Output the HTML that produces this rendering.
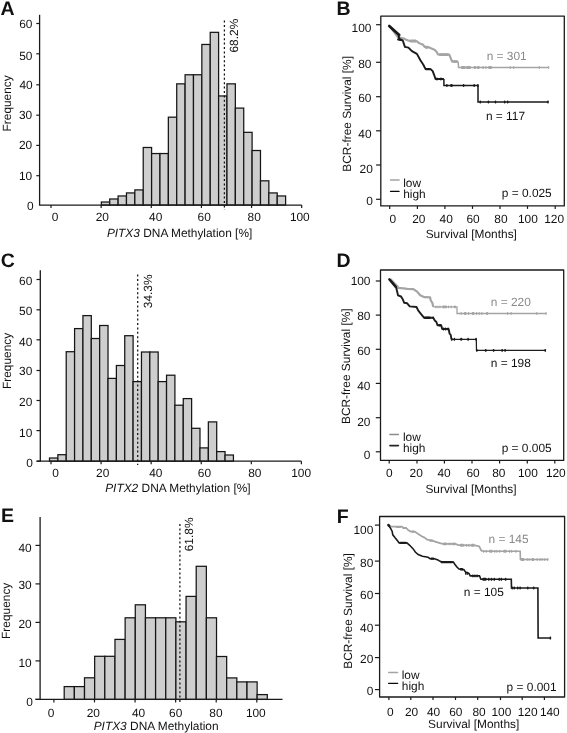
<!DOCTYPE html>
<html><head><meta charset="utf-8"><style>
html,body{margin:0;padding:0;background:#fff;width:567px;height:733px;overflow:hidden}
svg{display:block;filter:grayscale(1)}
text{font-family:"Liberation Sans",sans-serif;text-rendering:geometricPrecision}
</style></head><body>
<svg width="567" height="733" viewBox="0 0 567 733">
<rect width="567" height="733" fill="#fff"/>
<rect x="101.35" y="202.02" width="8.38" height="3.03" fill="#cecece" stroke="#151515" stroke-width="1.25"/>
<rect x="109.72" y="198.99" width="8.38" height="6.06" fill="#cecece" stroke="#151515" stroke-width="1.25"/>
<rect x="118.10" y="195.96" width="8.38" height="9.09" fill="#cecece" stroke="#151515" stroke-width="1.25"/>
<rect x="126.47" y="192.93" width="8.38" height="12.12" fill="#cecece" stroke="#151515" stroke-width="1.25"/>
<rect x="134.85" y="189.90" width="8.38" height="15.15" fill="#cecece" stroke="#151515" stroke-width="1.25"/>
<rect x="143.22" y="147.48" width="8.38" height="57.57" fill="#cecece" stroke="#151515" stroke-width="1.25"/>
<rect x="151.60" y="153.54" width="8.38" height="51.51" fill="#cecece" stroke="#151515" stroke-width="1.25"/>
<rect x="159.97" y="153.54" width="8.38" height="51.51" fill="#cecece" stroke="#151515" stroke-width="1.25"/>
<rect x="168.35" y="117.18" width="8.38" height="87.87" fill="#cecece" stroke="#151515" stroke-width="1.25"/>
<rect x="176.72" y="83.85" width="8.38" height="121.20" fill="#cecece" stroke="#151515" stroke-width="1.25"/>
<rect x="185.10" y="74.76" width="8.38" height="130.29" fill="#cecece" stroke="#151515" stroke-width="1.25"/>
<rect x="193.47" y="74.76" width="8.38" height="130.29" fill="#cecece" stroke="#151515" stroke-width="1.25"/>
<rect x="201.85" y="44.46" width="8.38" height="160.59" fill="#cecece" stroke="#151515" stroke-width="1.25"/>
<rect x="210.22" y="32.34" width="8.38" height="172.71" fill="#cecece" stroke="#151515" stroke-width="1.25"/>
<rect x="218.60" y="95.97" width="8.38" height="109.08" fill="#cecece" stroke="#151515" stroke-width="1.25"/>
<rect x="226.97" y="83.85" width="8.38" height="121.20" fill="#cecece" stroke="#151515" stroke-width="1.25"/>
<rect x="235.35" y="108.09" width="8.38" height="96.96" fill="#cecece" stroke="#151515" stroke-width="1.25"/>
<rect x="243.72" y="132.33" width="8.38" height="72.72" fill="#cecece" stroke="#151515" stroke-width="1.25"/>
<rect x="252.10" y="150.51" width="8.38" height="54.54" fill="#cecece" stroke="#151515" stroke-width="1.25"/>
<rect x="260.48" y="180.81" width="8.38" height="24.24" fill="#cecece" stroke="#151515" stroke-width="1.25"/>
<rect x="268.85" y="192.93" width="8.38" height="12.12" fill="#cecece" stroke="#151515" stroke-width="1.25"/>
<rect x="277.23" y="195.96" width="8.38" height="9.09" fill="#cecece" stroke="#151515" stroke-width="1.25"/>
<line x1="39.60" y1="14.80" x2="39.60" y2="205.65" stroke="#1a1a1a" stroke-width="1.3" />
<line x1="39.60" y1="205.05" x2="301.70" y2="205.05" stroke="#1a1a1a" stroke-width="1.3" />
<line x1="36.30" y1="23.50" x2="39.60" y2="23.50" stroke="#1a1a1a" stroke-width="1.2" />
<line x1="36.30" y1="53.80" x2="39.60" y2="53.80" stroke="#1a1a1a" stroke-width="1.2" />
<line x1="36.30" y1="84.80" x2="39.60" y2="84.80" stroke="#1a1a1a" stroke-width="1.2" />
<line x1="36.30" y1="115.20" x2="39.60" y2="115.20" stroke="#1a1a1a" stroke-width="1.2" />
<line x1="36.30" y1="145.40" x2="39.60" y2="145.40" stroke="#1a1a1a" stroke-width="1.2" />
<line x1="36.30" y1="175.70" x2="39.60" y2="175.70" stroke="#1a1a1a" stroke-width="1.2" />
<line x1="51.00" y1="205.05" x2="51.00" y2="208.05" stroke="#1a1a1a" stroke-width="1.2" />
<line x1="101.14" y1="205.05" x2="101.14" y2="208.05" stroke="#1a1a1a" stroke-width="1.2" />
<line x1="151.28" y1="205.05" x2="151.28" y2="208.05" stroke="#1a1a1a" stroke-width="1.2" />
<line x1="201.42" y1="205.05" x2="201.42" y2="208.05" stroke="#1a1a1a" stroke-width="1.2" />
<line x1="251.56" y1="205.05" x2="251.56" y2="208.05" stroke="#1a1a1a" stroke-width="1.2" />
<line x1="301.70" y1="205.05" x2="301.70" y2="208.05" stroke="#1a1a1a" stroke-width="1.2" />
<line x1="224.40" y1="20.60" x2="224.40" y2="210.00" stroke="#111" stroke-width="1.25" stroke-dasharray="2 2.4"/>
<rect x="49.50" y="458.00" width="8.36" height="3.20" fill="#cecece" stroke="#151515" stroke-width="1.25"/>
<rect x="57.86" y="454.70" width="8.36" height="6.50" fill="#cecece" stroke="#151515" stroke-width="1.25"/>
<rect x="66.22" y="351.70" width="8.36" height="109.50" fill="#cecece" stroke="#151515" stroke-width="1.25"/>
<rect x="74.58" y="328.60" width="8.36" height="132.60" fill="#cecece" stroke="#151515" stroke-width="1.25"/>
<rect x="82.94" y="315.60" width="8.36" height="145.60" fill="#cecece" stroke="#151515" stroke-width="1.25"/>
<rect x="91.30" y="338.50" width="8.36" height="122.70" fill="#cecece" stroke="#151515" stroke-width="1.25"/>
<rect x="99.66" y="325.50" width="8.36" height="135.70" fill="#cecece" stroke="#151515" stroke-width="1.25"/>
<rect x="108.02" y="378.40" width="8.36" height="82.80" fill="#cecece" stroke="#151515" stroke-width="1.25"/>
<rect x="116.38" y="365.50" width="8.36" height="95.70" fill="#cecece" stroke="#151515" stroke-width="1.25"/>
<rect x="124.74" y="335.70" width="8.36" height="125.50" fill="#cecece" stroke="#151515" stroke-width="1.25"/>
<rect x="133.10" y="381.60" width="8.36" height="79.60" fill="#cecece" stroke="#151515" stroke-width="1.25"/>
<rect x="141.46" y="352.00" width="8.36" height="109.20" fill="#cecece" stroke="#151515" stroke-width="1.25"/>
<rect x="149.82" y="352.00" width="8.36" height="109.20" fill="#cecece" stroke="#151515" stroke-width="1.25"/>
<rect x="158.18" y="381.60" width="8.36" height="79.60" fill="#cecece" stroke="#151515" stroke-width="1.25"/>
<rect x="166.54" y="375.20" width="8.36" height="86.00" fill="#cecece" stroke="#151515" stroke-width="1.25"/>
<rect x="174.90" y="405.20" width="8.36" height="56.00" fill="#cecece" stroke="#151515" stroke-width="1.25"/>
<rect x="183.26" y="398.60" width="8.36" height="62.60" fill="#cecece" stroke="#151515" stroke-width="1.25"/>
<rect x="191.62" y="428.30" width="8.36" height="32.90" fill="#cecece" stroke="#151515" stroke-width="1.25"/>
<rect x="199.98" y="447.90" width="8.36" height="13.30" fill="#cecece" stroke="#151515" stroke-width="1.25"/>
<rect x="208.34" y="421.90" width="8.36" height="39.30" fill="#cecece" stroke="#151515" stroke-width="1.25"/>
<rect x="216.70" y="451.60" width="8.36" height="9.60" fill="#cecece" stroke="#151515" stroke-width="1.25"/>
<rect x="225.06" y="455.00" width="8.36" height="6.20" fill="#cecece" stroke="#151515" stroke-width="1.25"/>
<line x1="40.30" y1="270.30" x2="40.30" y2="461.80" stroke="#1a1a1a" stroke-width="1.3" />
<line x1="36.60" y1="461.20" x2="301.40" y2="461.20" stroke="#1a1a1a" stroke-width="1.3" />
<line x1="36.50" y1="279.50" x2="40.30" y2="279.50" stroke="#1a1a1a" stroke-width="1.2" />
<line x1="36.50" y1="309.80" x2="40.30" y2="309.80" stroke="#1a1a1a" stroke-width="1.2" />
<line x1="36.50" y1="339.80" x2="40.30" y2="339.80" stroke="#1a1a1a" stroke-width="1.2" />
<line x1="36.50" y1="370.50" x2="40.30" y2="370.50" stroke="#1a1a1a" stroke-width="1.2" />
<line x1="36.50" y1="400.50" x2="40.30" y2="400.50" stroke="#1a1a1a" stroke-width="1.2" />
<line x1="36.50" y1="430.60" x2="40.30" y2="430.60" stroke="#1a1a1a" stroke-width="1.2" />
<line x1="36.50" y1="461.20" x2="40.30" y2="461.20" stroke="#1a1a1a" stroke-width="1.2" />
<line x1="51.00" y1="461.20" x2="51.00" y2="464.20" stroke="#1a1a1a" stroke-width="1.2" />
<line x1="101.08" y1="461.20" x2="101.08" y2="464.20" stroke="#1a1a1a" stroke-width="1.2" />
<line x1="151.16" y1="461.20" x2="151.16" y2="464.20" stroke="#1a1a1a" stroke-width="1.2" />
<line x1="201.24" y1="461.20" x2="201.24" y2="464.20" stroke="#1a1a1a" stroke-width="1.2" />
<line x1="251.32" y1="461.20" x2="251.32" y2="464.20" stroke="#1a1a1a" stroke-width="1.2" />
<line x1="301.40" y1="461.20" x2="301.40" y2="464.20" stroke="#1a1a1a" stroke-width="1.2" />
<line x1="137.70" y1="274.60" x2="137.70" y2="465.00" stroke="#111" stroke-width="1.25" stroke-dasharray="2 2.4"/>
<rect x="64.20" y="686.60" width="10.15" height="12.80" fill="#cecece" stroke="#151515" stroke-width="1.25"/>
<rect x="74.36" y="686.60" width="10.15" height="12.80" fill="#cecece" stroke="#151515" stroke-width="1.25"/>
<rect x="84.51" y="677.80" width="10.15" height="21.60" fill="#cecece" stroke="#151515" stroke-width="1.25"/>
<rect x="94.66" y="656.30" width="10.15" height="43.10" fill="#cecece" stroke="#151515" stroke-width="1.25"/>
<rect x="104.82" y="656.30" width="10.15" height="43.10" fill="#cecece" stroke="#151515" stroke-width="1.25"/>
<rect x="114.97" y="639.40" width="10.15" height="60.00" fill="#cecece" stroke="#151515" stroke-width="1.25"/>
<rect x="125.13" y="617.80" width="10.15" height="81.60" fill="#cecece" stroke="#151515" stroke-width="1.25"/>
<rect x="135.28" y="604.80" width="10.15" height="94.60" fill="#cecece" stroke="#151515" stroke-width="1.25"/>
<rect x="145.44" y="617.80" width="10.15" height="81.60" fill="#cecece" stroke="#151515" stroke-width="1.25"/>
<rect x="155.59" y="617.80" width="10.15" height="81.60" fill="#cecece" stroke="#151515" stroke-width="1.25"/>
<rect x="165.75" y="617.80" width="10.15" height="81.60" fill="#cecece" stroke="#151515" stroke-width="1.25"/>
<rect x="175.91" y="621.80" width="10.15" height="77.60" fill="#cecece" stroke="#151515" stroke-width="1.25"/>
<rect x="186.06" y="596.40" width="10.15" height="103.00" fill="#cecece" stroke="#151515" stroke-width="1.25"/>
<rect x="196.21" y="566.30" width="10.15" height="133.10" fill="#cecece" stroke="#151515" stroke-width="1.25"/>
<rect x="206.37" y="617.80" width="10.15" height="81.60" fill="#cecece" stroke="#151515" stroke-width="1.25"/>
<rect x="216.52" y="656.50" width="10.15" height="42.90" fill="#cecece" stroke="#151515" stroke-width="1.25"/>
<rect x="226.68" y="677.90" width="10.15" height="21.50" fill="#cecece" stroke="#151515" stroke-width="1.25"/>
<rect x="236.83" y="681.90" width="10.15" height="17.50" fill="#cecece" stroke="#151515" stroke-width="1.25"/>
<rect x="246.99" y="681.90" width="10.15" height="17.50" fill="#cecece" stroke="#151515" stroke-width="1.25"/>
<rect x="257.14" y="694.60" width="10.15" height="4.80" fill="#cecece" stroke="#151515" stroke-width="1.25"/>
<line x1="40.10" y1="516.90" x2="40.10" y2="700.00" stroke="#1a1a1a" stroke-width="1.3" />
<line x1="35.50" y1="699.40" x2="282.50" y2="699.40" stroke="#1a1a1a" stroke-width="1.3" />
<line x1="35.50" y1="699.40" x2="40.10" y2="699.40" stroke="#1a1a1a" stroke-width="1.2" />
<line x1="35.50" y1="660.90" x2="40.10" y2="660.90" stroke="#1a1a1a" stroke-width="1.2" />
<line x1="35.50" y1="622.40" x2="40.10" y2="622.40" stroke="#1a1a1a" stroke-width="1.2" />
<line x1="35.50" y1="583.90" x2="40.10" y2="583.90" stroke="#1a1a1a" stroke-width="1.2" />
<line x1="35.50" y1="545.40" x2="40.10" y2="545.40" stroke="#1a1a1a" stroke-width="1.2" />
<line x1="53.90" y1="699.40" x2="53.90" y2="702.40" stroke="#1a1a1a" stroke-width="1.2" />
<line x1="94.48" y1="699.40" x2="94.48" y2="702.40" stroke="#1a1a1a" stroke-width="1.2" />
<line x1="135.06" y1="699.40" x2="135.06" y2="702.40" stroke="#1a1a1a" stroke-width="1.2" />
<line x1="175.64" y1="699.40" x2="175.64" y2="702.40" stroke="#1a1a1a" stroke-width="1.2" />
<line x1="216.22" y1="699.40" x2="216.22" y2="702.40" stroke="#1a1a1a" stroke-width="1.2" />
<line x1="256.80" y1="699.40" x2="256.80" y2="702.40" stroke="#1a1a1a" stroke-width="1.2" />
<line x1="179.90" y1="524.00" x2="179.90" y2="703.00" stroke="#111" stroke-width="1.25" stroke-dasharray="2 2.4"/>
<rect x="380.80" y="16.10" width="183.50" height="189.80" fill="none" stroke="#1a1a1a" stroke-width="1.3" stroke-linejoin="round"/>
<line x1="376.10" y1="24.70" x2="380.80" y2="24.70" stroke="#1a1a1a" stroke-width="1.2" />
<line x1="376.10" y1="62.30" x2="380.80" y2="62.30" stroke="#1a1a1a" stroke-width="1.2" />
<line x1="376.10" y1="96.70" x2="380.80" y2="96.70" stroke="#1a1a1a" stroke-width="1.2" />
<line x1="376.10" y1="130.80" x2="380.80" y2="130.80" stroke="#1a1a1a" stroke-width="1.2" />
<line x1="376.10" y1="165.00" x2="380.80" y2="165.00" stroke="#1a1a1a" stroke-width="1.2" />
<line x1="376.10" y1="199.30" x2="380.80" y2="199.30" stroke="#1a1a1a" stroke-width="1.2" />
<line x1="389.70" y1="205.90" x2="389.70" y2="208.90" stroke="#1a1a1a" stroke-width="1.2" />
<line x1="417.40" y1="205.90" x2="417.40" y2="208.90" stroke="#1a1a1a" stroke-width="1.2" />
<line x1="444.90" y1="205.90" x2="444.90" y2="208.90" stroke="#1a1a1a" stroke-width="1.2" />
<line x1="472.50" y1="205.90" x2="472.50" y2="208.90" stroke="#1a1a1a" stroke-width="1.2" />
<line x1="500.00" y1="205.90" x2="500.00" y2="208.90" stroke="#1a1a1a" stroke-width="1.2" />
<line x1="527.50" y1="205.90" x2="527.50" y2="208.90" stroke="#1a1a1a" stroke-width="1.2" />
<line x1="555.20" y1="205.90" x2="555.20" y2="208.90" stroke="#1a1a1a" stroke-width="1.2" />
<path d="M389.5,26.2 L397.8,37.0 L403.5,38.4 L406.3,39.8 L409.1,40.8 L416.9,41.2 L419.0,43.1 L423.2,44.8 L424.6,46.9 L428.9,47.3 L431.0,48.3 L434.5,49.7 L436.6,51.8 L438.0,54.5 L449.3,54.6 L450.7,58.2 L452.1,61.5 L458.1,61.6" fill="none" stroke="#a4a4a4" stroke-width="2.1" stroke-linejoin="round"/>
<path d="M458.1,61.6 L458.6,67.5 L548.7,67.5" fill="none" stroke="#a4a4a4" stroke-width="1.5" />
<rect x="461.00" y="66.05" width="4.60" height="2.90" rx="0.9" fill="#a4a4a4"/>
<rect x="466.00" y="66.05" width="4.90" height="2.90" rx="0.9" fill="#a4a4a4"/>
<rect x="473.70" y="66.05" width="2.50" height="2.90" rx="0.9" fill="#a4a4a4"/>
<rect x="476.90" y="66.05" width="2.80" height="2.90" rx="0.9" fill="#a4a4a4"/>
<rect x="482.20" y="66.05" width="1.70" height="2.90" rx="0.9" fill="#a4a4a4"/>
<rect x="485.30" y="66.05" width="1.20" height="2.90" rx="0.6" fill="#a4a4a4"/>
<rect x="488.20" y="66.05" width="3.80" height="2.90" rx="0.9" fill="#a4a4a4"/>
<rect x="509.60" y="66.05" width="1.20" height="2.90" rx="0.6" fill="#a4a4a4"/>
<rect x="513.10" y="66.05" width="1.20" height="2.90" rx="0.6" fill="#a4a4a4"/>
<rect x="538.70" y="66.05" width="1.20" height="2.90" rx="0.6" fill="#a4a4a4"/>
<rect x="548.10" y="66.05" width="1.20" height="2.90" rx="0.6" fill="#a4a4a4"/>
<rect x="439.00" y="53.15" width="9.50" height="2.90" rx="0.9" fill="#a4a4a4"/>
<rect x="409.50" y="39.55" width="7.00" height="2.90" rx="0.9" fill="#a4a4a4"/>
<rect x="424.80" y="45.75" width="3.80" height="2.90" rx="0.9" fill="#a4a4a4"/>
<rect x="452.50" y="60.30" width="5.00" height="2.40" rx="0.9" fill="#a4a4a4"/>
<path d="M389.5,26.2 L398.5,34.9 L399.2,39.1 L402.8,40.5 L404.9,46.9 L408.4,47.6 L411.9,51.1 L416.9,53.9 L420.4,60.3 L423.2,64.5 L425.6,69.1 L430.6,69.1 L432.7,71.2 L434.1,74.8 L435.5,79.0 L443.9,79.0" fill="none" stroke="#1a1a1a" stroke-width="1.9" stroke-linejoin="round"/>
<path d="M443.9,79.0 L443.9,85.5 L478.0,85.5 L478.0,102.0 L548.2,102.0" fill="none" stroke="#1a1a1a" stroke-width="1.5" />
<path d="M389.2,26.0 L399.3,35.0" fill="none" stroke="#1a1a1a" stroke-width="2.6" stroke-linecap="round"/>
<path d="M398.3,39.4 L400.5,39.8" fill="none" stroke="#1a1a1a" stroke-width="2.4" stroke-linecap="round"/>
<rect x="425.60" y="67.90" width="5.00" height="2.40" rx="0.9" fill="#1a1a1a"/>
<rect x="436.25" y="77.55" width="1.50" height="2.90" rx="0.6" fill="#1a1a1a"/>
<rect x="440.15" y="77.55" width="1.50" height="2.90" rx="0.6" fill="#1a1a1a"/>
<rect x="446.15" y="84.05" width="1.50" height="2.90" rx="0.6" fill="#1a1a1a"/>
<rect x="450.30" y="84.05" width="2.40" height="2.90" rx="0.9" fill="#1a1a1a"/>
<rect x="462.85" y="84.05" width="1.50" height="2.90" rx="0.6" fill="#1a1a1a"/>
<rect x="473.45" y="84.05" width="1.50" height="2.90" rx="0.6" fill="#1a1a1a"/>
<rect x="477.15" y="84.05" width="1.50" height="2.90" rx="0.6" fill="#1a1a1a"/>
<rect x="479.55" y="100.55" width="1.50" height="2.90" rx="0.6" fill="#1a1a1a"/>
<rect x="487.65" y="100.55" width="1.50" height="2.90" rx="0.6" fill="#1a1a1a"/>
<rect x="494.75" y="100.55" width="1.50" height="2.90" rx="0.6" fill="#1a1a1a"/>
<rect x="503.95" y="100.55" width="1.50" height="2.90" rx="0.6" fill="#1a1a1a"/>
<rect x="506.95" y="100.55" width="1.50" height="2.90" rx="0.6" fill="#1a1a1a"/>
<rect x="547.25" y="100.55" width="1.50" height="2.90" rx="0.6" fill="#1a1a1a"/>
<line x1="390.60" y1="180.00" x2="399.00" y2="180.00" stroke="#a4a4a4" stroke-width="1.6" stroke-linecap="round"/>
<line x1="390.60" y1="191.40" x2="399.00" y2="191.40" stroke="#0a0a0a" stroke-width="1.4" stroke-linecap="round"/>
<rect x="380.50" y="270.00" width="183.20" height="190.40" fill="none" stroke="#1a1a1a" stroke-width="1.3" stroke-linejoin="round"/>
<line x1="375.80" y1="281.00" x2="380.50" y2="281.00" stroke="#1a1a1a" stroke-width="1.2" />
<line x1="375.80" y1="315.10" x2="380.50" y2="315.10" stroke="#1a1a1a" stroke-width="1.2" />
<line x1="375.80" y1="349.30" x2="380.50" y2="349.30" stroke="#1a1a1a" stroke-width="1.2" />
<line x1="375.80" y1="383.40" x2="380.50" y2="383.40" stroke="#1a1a1a" stroke-width="1.2" />
<line x1="375.80" y1="417.70" x2="380.50" y2="417.70" stroke="#1a1a1a" stroke-width="1.2" />
<line x1="375.80" y1="451.80" x2="380.50" y2="451.80" stroke="#1a1a1a" stroke-width="1.2" />
<line x1="389.20" y1="460.40" x2="389.20" y2="463.40" stroke="#1a1a1a" stroke-width="1.2" />
<line x1="417.00" y1="460.40" x2="417.00" y2="463.40" stroke="#1a1a1a" stroke-width="1.2" />
<line x1="444.40" y1="460.40" x2="444.40" y2="463.40" stroke="#1a1a1a" stroke-width="1.2" />
<line x1="472.00" y1="460.40" x2="472.00" y2="463.40" stroke="#1a1a1a" stroke-width="1.2" />
<line x1="499.60" y1="460.40" x2="499.60" y2="463.40" stroke="#1a1a1a" stroke-width="1.2" />
<line x1="527.30" y1="460.40" x2="527.30" y2="463.40" stroke="#1a1a1a" stroke-width="1.2" />
<line x1="554.80" y1="460.40" x2="554.80" y2="463.40" stroke="#1a1a1a" stroke-width="1.2" />
<path d="M390.3,279.0 L398.0,286.9 L398.0,287.9 L403.5,288.3 L407.2,288.8 L413.4,289.1 L417.1,291.6 L420.2,295.3 L424.5,297.2 L430.1,297.4 L430.7,300.2 L432.5,303.3 L433.2,306.9" fill="none" stroke="#a4a4a4" stroke-width="2.2" stroke-linejoin="round"/>
<path d="M433.2,306.9 L457.0,306.9 L457.0,313.5 L546.1,313.5" fill="none" stroke="#a4a4a4" stroke-width="1.3" />
<rect x="435.20" y="305.45" width="1.20" height="2.90" rx="0.6" fill="#a4a4a4"/>
<rect x="437.30" y="305.45" width="1.20" height="2.90" rx="0.6" fill="#a4a4a4"/>
<rect x="439.40" y="305.45" width="1.20" height="2.90" rx="0.6" fill="#a4a4a4"/>
<rect x="442.20" y="305.45" width="4.70" height="2.90" rx="0.9" fill="#a4a4a4"/>
<rect x="447.90" y="305.45" width="1.20" height="2.90" rx="0.6" fill="#a4a4a4"/>
<rect x="450.60" y="305.45" width="1.20" height="2.90" rx="0.6" fill="#a4a4a4"/>
<rect x="453.80" y="305.45" width="2.10" height="2.90" rx="0.9" fill="#a4a4a4"/>
<rect x="460.60" y="312.05" width="1.20" height="2.90" rx="0.6" fill="#a4a4a4"/>
<rect x="463.90" y="312.05" width="2.60" height="2.90" rx="0.9" fill="#a4a4a4"/>
<rect x="468.00" y="312.05" width="1.20" height="2.90" rx="0.6" fill="#a4a4a4"/>
<rect x="471.80" y="312.05" width="2.60" height="2.90" rx="0.9" fill="#a4a4a4"/>
<rect x="476.00" y="312.05" width="1.20" height="2.90" rx="0.6" fill="#a4a4a4"/>
<rect x="478.60" y="312.05" width="1.20" height="2.90" rx="0.6" fill="#a4a4a4"/>
<rect x="481.30" y="312.05" width="1.20" height="2.90" rx="0.6" fill="#a4a4a4"/>
<rect x="486.10" y="312.05" width="2.10" height="2.90" rx="0.9" fill="#a4a4a4"/>
<rect x="507.00" y="312.05" width="1.20" height="2.90" rx="0.6" fill="#a4a4a4"/>
<rect x="510.50" y="312.05" width="1.20" height="2.90" rx="0.6" fill="#a4a4a4"/>
<rect x="536.10" y="312.05" width="1.20" height="2.90" rx="0.6" fill="#a4a4a4"/>
<rect x="545.50" y="312.05" width="1.20" height="2.90" rx="0.6" fill="#a4a4a4"/>
<path d="M389.3,279.3 L392.4,283.0 L396.1,287.3 L397.3,292.2 L398.0,295.3 L401.0,296.5 L402.9,299.6 L404.1,302.7 L407.2,303.3 L409.7,306.4 L416.5,307.0 L418.3,310.7 L421.1,314.1 L424.2,317.8 L433.2,317.8 L434.8,320.5 L436.4,322.0 L437.5,325.2 L441.2,325.2 L442.2,329.0 L448.6,329.0 L449.6,333.7 L450.7,334.8 L451.5,339.3" fill="none" stroke="#1e1e1e" stroke-width="1.9" stroke-linejoin="round"/>
<path d="M451.5,339.3 L476.3,339.3 L476.5,350.4 L545.3,350.4" fill="none" stroke="#1e1e1e" stroke-width="1.25" />
<path d="M389.3,279.3 L395.6,286.6" fill="none" stroke="#1a1a1a" stroke-width="2.4" stroke-linecap="round"/>
<rect x="424.20" y="316.50" width="6.40" height="2.60" rx="0.9" fill="#1a1a1a"/>
<rect x="432.45" y="316.50" width="1.50" height="2.60" rx="0.6" fill="#1a1a1a"/>
<rect x="438.50" y="324.00" width="2.70" height="2.40" rx="0.9" fill="#1a1a1a"/>
<rect x="442.75" y="327.55" width="1.50" height="2.90" rx="0.6" fill="#1a1a1a"/>
<rect x="444.75" y="327.55" width="1.50" height="2.90" rx="0.6" fill="#1a1a1a"/>
<rect x="447.35" y="327.55" width="1.50" height="2.90" rx="0.6" fill="#1a1a1a"/>
<rect x="450.95" y="337.85" width="1.50" height="2.90" rx="0.6" fill="#1a1a1a"/>
<rect x="453.65" y="337.85" width="1.50" height="2.90" rx="0.6" fill="#1a1a1a"/>
<rect x="460.20" y="337.85" width="2.10" height="2.90" rx="0.9" fill="#1a1a1a"/>
<rect x="467.35" y="337.85" width="1.50" height="2.90" rx="0.6" fill="#1a1a1a"/>
<rect x="475.35" y="337.85" width="1.50" height="2.90" rx="0.6" fill="#1a1a1a"/>
<rect x="476.05" y="348.95" width="1.50" height="2.90" rx="0.6" fill="#1a1a1a"/>
<rect x="484.80" y="348.95" width="1.80" height="2.90" rx="0.9" fill="#1a1a1a"/>
<rect x="492.85" y="348.95" width="1.50" height="2.90" rx="0.6" fill="#1a1a1a"/>
<rect x="501.45" y="348.95" width="1.50" height="2.90" rx="0.6" fill="#1a1a1a"/>
<rect x="504.35" y="348.95" width="1.50" height="2.90" rx="0.6" fill="#1a1a1a"/>
<rect x="544.55" y="348.95" width="1.50" height="2.90" rx="0.6" fill="#1a1a1a"/>
<line x1="389.90" y1="434.40" x2="398.40" y2="434.40" stroke="#8c8c8c" stroke-width="1.5" stroke-linecap="round"/>
<line x1="389.90" y1="445.60" x2="398.40" y2="445.60" stroke="#262626" stroke-width="1.6" stroke-linecap="round"/>
<rect x="379.60" y="516.50" width="185.00" height="180.50" fill="none" stroke="#1a1a1a" stroke-width="1.3" stroke-linejoin="round"/>
<line x1="374.90" y1="525.10" x2="379.60" y2="525.10" stroke="#1a1a1a" stroke-width="1.2" />
<line x1="374.90" y1="561.10" x2="379.60" y2="561.10" stroke="#1a1a1a" stroke-width="1.2" />
<line x1="374.90" y1="593.50" x2="379.60" y2="593.50" stroke="#1a1a1a" stroke-width="1.2" />
<line x1="374.90" y1="625.20" x2="379.60" y2="625.20" stroke="#1a1a1a" stroke-width="1.2" />
<line x1="374.90" y1="657.60" x2="379.60" y2="657.60" stroke="#1a1a1a" stroke-width="1.2" />
<line x1="374.90" y1="689.60" x2="379.60" y2="689.60" stroke="#1a1a1a" stroke-width="1.2" />
<line x1="388.90" y1="697.00" x2="388.90" y2="700.00" stroke="#1a1a1a" stroke-width="1.2" />
<line x1="410.80" y1="697.00" x2="410.80" y2="700.00" stroke="#1a1a1a" stroke-width="1.2" />
<line x1="433.00" y1="697.00" x2="433.00" y2="700.00" stroke="#1a1a1a" stroke-width="1.2" />
<line x1="455.50" y1="697.00" x2="455.50" y2="700.00" stroke="#1a1a1a" stroke-width="1.2" />
<line x1="477.70" y1="697.00" x2="477.70" y2="700.00" stroke="#1a1a1a" stroke-width="1.2" />
<line x1="500.50" y1="697.00" x2="500.50" y2="700.00" stroke="#1a1a1a" stroke-width="1.2" />
<line x1="522.20" y1="697.00" x2="522.20" y2="700.00" stroke="#1a1a1a" stroke-width="1.2" />
<line x1="544.40" y1="697.00" x2="544.40" y2="700.00" stroke="#1a1a1a" stroke-width="1.2" />
<path d="M388.5,525.6 L389.9,526.6 L401.9,526.6 L403.3,528.0 L406.2,528.0 L408.3,530.2 L411.1,531.6 L414.6,531.6 L417.5,533.6 L421.7,536.2 L424.5,537.6 L427.3,539.7 L432.3,540.7 L435.8,541.8 L440.0,543.2 L442.8,543.9 L455.5,543.9 L458.4,545.2 L475.0,545.4 L479.2,546.3 L481.3,550.6 L482.8,551.3" fill="none" stroke="#a4a4a4" stroke-width="1.8" stroke-linejoin="round"/>
<path d="M482.8,551.3 L520.2,551.3 L520.4,559.5 L548.4,559.5" fill="none" stroke="#a4a4a4" stroke-width="1.6" />
<rect x="396.00" y="525.90" width="5.00" height="2.20" rx="0.9" fill="#a4a4a4"/>
<rect x="411.50" y="530.40" width="3.00" height="2.40" rx="0.9" fill="#a4a4a4"/>
<rect x="429.50" y="539.60" width="3.50" height="2.20" rx="0.9" fill="#a4a4a4"/>
<rect x="443.00" y="542.45" width="4.00" height="2.90" rx="0.9" fill="#a4a4a4"/>
<rect x="448.40" y="542.45" width="1.20" height="2.90" rx="0.6" fill="#a4a4a4"/>
<rect x="450.40" y="542.45" width="1.20" height="2.90" rx="0.6" fill="#a4a4a4"/>
<rect x="452.50" y="542.45" width="3.00" height="2.90" rx="0.9" fill="#a4a4a4"/>
<rect x="460.00" y="543.85" width="4.00" height="2.90" rx="0.9" fill="#a4a4a4"/>
<rect x="465.90" y="543.85" width="1.20" height="2.90" rx="0.6" fill="#a4a4a4"/>
<rect x="468.40" y="543.85" width="1.20" height="2.90" rx="0.6" fill="#a4a4a4"/>
<rect x="471.00" y="543.85" width="3.50" height="2.90" rx="0.9" fill="#a4a4a4"/>
<rect x="482.90" y="549.85" width="1.20" height="2.90" rx="0.6" fill="#a4a4a4"/>
<rect x="485.70" y="549.85" width="1.20" height="2.90" rx="0.6" fill="#a4a4a4"/>
<rect x="489.10" y="549.85" width="3.50" height="2.90" rx="0.9" fill="#a4a4a4"/>
<rect x="494.20" y="549.85" width="1.20" height="2.90" rx="0.6" fill="#a4a4a4"/>
<rect x="496.30" y="549.85" width="1.20" height="2.90" rx="0.6" fill="#a4a4a4"/>
<rect x="499.10" y="549.85" width="1.20" height="2.90" rx="0.6" fill="#a4a4a4"/>
<rect x="503.20" y="549.85" width="3.50" height="2.90" rx="0.9" fill="#a4a4a4"/>
<rect x="509.00" y="549.85" width="1.20" height="2.90" rx="0.6" fill="#a4a4a4"/>
<rect x="511.10" y="549.85" width="1.20" height="2.90" rx="0.6" fill="#a4a4a4"/>
<rect x="515.30" y="549.85" width="1.20" height="2.90" rx="0.6" fill="#a4a4a4"/>
<rect x="520.60" y="558.05" width="3.80" height="2.90" rx="0.9" fill="#a4a4a4"/>
<rect x="526.60" y="558.05" width="1.20" height="2.90" rx="0.6" fill="#a4a4a4"/>
<rect x="528.70" y="558.05" width="1.20" height="2.90" rx="0.6" fill="#a4a4a4"/>
<rect x="531.40" y="558.05" width="2.90" height="2.90" rx="0.9" fill="#a4a4a4"/>
<rect x="536.50" y="558.05" width="1.20" height="2.90" rx="0.6" fill="#a4a4a4"/>
<rect x="539.30" y="558.05" width="1.20" height="2.90" rx="0.6" fill="#a4a4a4"/>
<rect x="541.40" y="558.05" width="1.20" height="2.90" rx="0.6" fill="#a4a4a4"/>
<rect x="544.20" y="558.05" width="1.20" height="2.90" rx="0.6" fill="#a4a4a4"/>
<rect x="547.10" y="558.05" width="1.20" height="2.90" rx="0.6" fill="#a4a4a4"/>
<path d="M388.5,525.2 L390.6,528.4 L392.1,531.2 L392.8,534.8 L394.9,537.6 L397.7,541.1 L399.1,542.9 L406.9,542.9 L409.7,545.3 L413.2,548.9 L415.3,552.0 L418.2,554.5 L422.4,556.2 L428.0,557.3 L430.1,558.7 L434.4,558.7 L437.9,559.9 L440.0,561.3 L442.8,562.1 L453.4,562.1 L454.8,564.2 L456.9,567.0 L459.0,569.1 L464.0,569.8 L465.4,571.9 L468.9,573.3 L470.3,575.9 L479.5,575.9 L480.9,579.3 L511.3,579.3 L511.5,588.0 L537.9,588.0 L538.1,638.0 L550.6,638.0" fill="none" stroke="#1a1a1a" stroke-width="1.6" />
<path d="M388.3,525.0 L389.3,525.9" fill="none" stroke="#1a1a1a" stroke-width="2.4" stroke-linecap="round"/>
<rect x="399.50" y="541.80" width="7.00" height="2.20" rx="0.9" fill="#1a1a1a"/>
<rect x="430.50" y="557.60" width="3.70" height="2.20" rx="0.9" fill="#1a1a1a"/>
<rect x="440.70" y="560.90" width="12.00" height="2.40" rx="0.9" fill="#1a1a1a"/>
<rect x="459.80" y="568.10" width="3.50" height="2.40" rx="0.9" fill="#1a1a1a"/>
<rect x="465.05" y="571.85" width="1.50" height="2.90" rx="0.6" fill="#1a1a1a"/>
<rect x="466.75" y="571.85" width="1.50" height="2.90" rx="0.6" fill="#1a1a1a"/>
<rect x="472.05" y="574.45" width="1.50" height="2.90" rx="0.6" fill="#1a1a1a"/>
<rect x="474.15" y="574.45" width="1.50" height="2.90" rx="0.6" fill="#1a1a1a"/>
<rect x="476.35" y="574.45" width="1.50" height="2.90" rx="0.6" fill="#1a1a1a"/>
<rect x="482.30" y="577.85" width="4.30" height="2.90" rx="0.9" fill="#1a1a1a"/>
<rect x="487.95" y="577.85" width="1.50" height="2.90" rx="0.6" fill="#1a1a1a"/>
<rect x="490.75" y="577.85" width="1.50" height="2.90" rx="0.6" fill="#1a1a1a"/>
<rect x="493.55" y="577.85" width="1.50" height="2.90" rx="0.6" fill="#1a1a1a"/>
<rect x="498.55" y="577.85" width="1.50" height="2.90" rx="0.6" fill="#1a1a1a"/>
<rect x="500.65" y="577.85" width="1.50" height="2.90" rx="0.6" fill="#1a1a1a"/>
<rect x="504.85" y="577.85" width="1.50" height="2.90" rx="0.6" fill="#1a1a1a"/>
<rect x="511.50" y="586.55" width="1.50" height="2.90" rx="0.9" fill="#1a1a1a"/>
<rect x="513.45" y="586.55" width="1.50" height="2.90" rx="0.6" fill="#1a1a1a"/>
<rect x="516.95" y="586.55" width="1.50" height="2.90" rx="0.6" fill="#1a1a1a"/>
<rect x="519.35" y="586.55" width="1.50" height="2.90" rx="0.6" fill="#1a1a1a"/>
<rect x="527.05" y="586.55" width="1.50" height="2.90" rx="0.6" fill="#1a1a1a"/>
<rect x="532.95" y="586.55" width="1.50" height="2.90" rx="0.6" fill="#1a1a1a"/>
<rect x="549.65" y="636.40" width="1.50" height="3.20" rx="0.6" fill="#1a1a1a"/>
<line x1="388.70" y1="672.50" x2="397.60" y2="672.50" stroke="#a4a4a4" stroke-width="1.4" stroke-linecap="round"/>
<line x1="388.70" y1="683.40" x2="397.60" y2="683.40" stroke="#0a0a0a" stroke-width="1.4" stroke-linecap="round"/>
<text x="0.55" y="14.91" font-size="19.5" font-weight="bold" fill="#111">A</text>
<text x="19.13" y="28.17" font-size="11.9" font-weight="normal" fill="#111">60</text>
<text x="19.13" y="59.61" font-size="11.9" font-weight="normal" fill="#111">50</text>
<text x="19.43" y="89.33" font-size="11.9" font-weight="normal" fill="#111">40</text>
<text x="18.93" y="118.55" font-size="11.9" font-weight="normal" fill="#111">30</text>
<text x="18.93" y="148.55" font-size="11.9" font-weight="normal" fill="#111">20</text>
<text x="18.93" y="180.10" font-size="11.9" font-weight="normal" fill="#111">10</text>
<text x="27.07" y="209.70" font-size="11.9" font-weight="normal" fill="#111">0</text>
<text x="51.83" y="220.90" font-size="11.9" font-weight="normal" fill="#111">0</text>
<text x="95.63" y="220.85" font-size="11.9" font-weight="normal" fill="#111">20</text>
<text x="149.05" y="220.93" font-size="11.9" font-weight="normal" fill="#111">40</text>
<text x="197.58" y="220.87" font-size="11.9" font-weight="normal" fill="#111">60</text>
<text x="247.56" y="220.85" font-size="11.9" font-weight="normal" fill="#111">80</text>
<text x="289.89" y="220.90" font-size="11.9" font-weight="normal" fill="#111">100</text>
<text transform="translate(11.37,131.44) rotate(-90)" font-size="11.9" font-weight="normal" fill="#111">Frequency</text>
<text x="106.89" y="236.92" font-size="11.9" font-weight="normal" fill="#111"><tspan font-style="italic">PITX3</tspan> DNA Methylation [%]</text>
<text transform="translate(237.91,52.49) rotate(-90)" font-size="11.9" font-weight="normal" fill="#111">68.2%</text>
<text x="336.41" y="14.78" font-size="19.5" font-weight="bold" fill="#111">B</text>
<text x="351.54" y="32.10" font-size="11.9" font-weight="normal" fill="#111">100</text>
<text x="358.13" y="67.95" font-size="11.9" font-weight="normal" fill="#111">80</text>
<text x="358.13" y="101.67" font-size="11.9" font-weight="normal" fill="#111">60</text>
<text x="358.33" y="138.33" font-size="11.9" font-weight="normal" fill="#111">40</text>
<text x="359.53" y="173.35" font-size="11.9" font-weight="normal" fill="#111">20</text>
<text x="366.17" y="204.80" font-size="11.9" font-weight="normal" fill="#111">0</text>
<text x="389.53" y="223.00" font-size="11.9" font-weight="normal" fill="#111">0</text>
<text x="412.13" y="222.95" font-size="11.9" font-weight="normal" fill="#111">20</text>
<text x="439.55" y="223.03" font-size="11.9" font-weight="normal" fill="#111">40</text>
<text x="466.48" y="222.97" font-size="11.9" font-weight="normal" fill="#111">60</text>
<text x="494.36" y="222.95" font-size="11.9" font-weight="normal" fill="#111">80</text>
<text x="517.99" y="223.00" font-size="11.9" font-weight="normal" fill="#111">100</text>
<text x="544.19" y="223.00" font-size="11.9" font-weight="normal" fill="#111">120</text>
<text x="425.70" y="237.72" font-size="11.9" font-weight="normal" fill="#111">Survival [Months]</text>
<text transform="translate(350.50,171.67) rotate(-90)" font-size="11.9" font-weight="normal" fill="#111">BCR-free Survival [%]</text>
<text x="486.70" y="59.91" font-size="11.9" font-weight="normal" fill="#8a8a8a">n = 301</text>
<text x="485.93" y="120.15" font-size="11.9" font-weight="normal" fill="#111">n = 117</text>
<text x="403.13" y="186.65" font-size="11.9" font-weight="normal" fill="#111">low</text>
<text x="403.17" y="197.94" font-size="11.9" font-weight="normal" fill="#111">high</text>
<text x="501.80" y="197.42" font-size="11.9" font-weight="normal" fill="#111">p = 0.025</text>
<text x="0.64" y="267.43" font-size="19.5" font-weight="bold" fill="#111">C</text>
<text x="19.03" y="284.87" font-size="11.9" font-weight="normal" fill="#111">60</text>
<text x="19.03" y="314.61" font-size="11.9" font-weight="normal" fill="#111">50</text>
<text x="19.03" y="346.33" font-size="11.9" font-weight="normal" fill="#111">40</text>
<text x="19.03" y="375.45" font-size="11.9" font-weight="normal" fill="#111">30</text>
<text x="19.03" y="406.05" font-size="11.9" font-weight="normal" fill="#111">20</text>
<text x="19.03" y="436.60" font-size="11.9" font-weight="normal" fill="#111">10</text>
<text x="26.37" y="467.10" font-size="11.9" font-weight="normal" fill="#111">0</text>
<text x="52.18" y="477.10" font-size="11.9" font-weight="normal" fill="#111">0</text>
<text x="96.03" y="477.05" font-size="11.9" font-weight="normal" fill="#111">20</text>
<text x="149.15" y="477.13" font-size="11.9" font-weight="normal" fill="#111">40</text>
<text x="197.78" y="477.07" font-size="11.9" font-weight="normal" fill="#111">60</text>
<text x="248.16" y="477.05" font-size="11.9" font-weight="normal" fill="#111">80</text>
<text x="291.19" y="477.10" font-size="11.9" font-weight="normal" fill="#111">100</text>
<text transform="translate(11.47,388.99) rotate(-90)" font-size="11.9" font-weight="normal" fill="#111">Frequency</text>
<text x="105.19" y="492.42" font-size="11.9" font-weight="normal" fill="#111"><tspan font-style="italic">PITX2</tspan> DNA Methylation [%]</text>
<text transform="translate(151.78,308.21) rotate(-90)" font-size="11.9" font-weight="normal" fill="#111">34.3%</text>
<text x="336.62" y="267.23" font-size="19.5" font-weight="bold" fill="#111">D</text>
<text x="350.64" y="285.10" font-size="11.9" font-weight="normal" fill="#111">100</text>
<text x="357.23" y="319.95" font-size="11.9" font-weight="normal" fill="#111">80</text>
<text x="357.23" y="354.57" font-size="11.9" font-weight="normal" fill="#111">60</text>
<text x="357.23" y="390.43" font-size="11.9" font-weight="normal" fill="#111">40</text>
<text x="357.23" y="426.05" font-size="11.9" font-weight="normal" fill="#111">20</text>
<text x="363.87" y="459.30" font-size="11.9" font-weight="normal" fill="#111">0</text>
<text x="385.93" y="476.70" font-size="11.9" font-weight="normal" fill="#111">0</text>
<text x="409.53" y="476.65" font-size="11.9" font-weight="normal" fill="#111">20</text>
<text x="437.45" y="476.73" font-size="11.9" font-weight="normal" fill="#111">40</text>
<text x="466.48" y="476.67" font-size="11.9" font-weight="normal" fill="#111">60</text>
<text x="492.16" y="476.65" font-size="11.9" font-weight="normal" fill="#111">80</text>
<text x="517.99" y="476.70" font-size="11.9" font-weight="normal" fill="#111">100</text>
<text x="545.89" y="476.70" font-size="11.9" font-weight="normal" fill="#111">120</text>
<text x="425.40" y="492.72" font-size="11.9" font-weight="normal" fill="#111">Survival [Months]</text>
<text transform="translate(349.50,424.02) rotate(-90)" font-size="11.9" font-weight="normal" fill="#111">BCR-free Survival [%]</text>
<text x="490.75" y="306.30" font-size="11.9" font-weight="normal" fill="#8a8a8a">n = 220</text>
<text x="490.79" y="367.21" font-size="11.9" font-weight="normal" fill="#111">n = 198</text>
<text x="402.93" y="440.75" font-size="11.9" font-weight="normal" fill="#111">low</text>
<text x="402.97" y="452.29" font-size="11.9" font-weight="normal" fill="#111">high</text>
<text x="501.70" y="452.07" font-size="11.9" font-weight="normal" fill="#111">p = 0.005</text>
<text x="0.96" y="522.33" font-size="19.5" font-weight="bold" fill="#111">E</text>
<text x="18.43" y="551.63" font-size="11.9" font-weight="normal" fill="#111">40</text>
<text x="18.43" y="589.45" font-size="11.9" font-weight="normal" fill="#111">30</text>
<text x="18.43" y="627.55" font-size="11.9" font-weight="normal" fill="#111">20</text>
<text x="18.43" y="666.90" font-size="11.9" font-weight="normal" fill="#111">10</text>
<text x="26.37" y="706.20" font-size="11.9" font-weight="normal" fill="#111">0</text>
<text x="47.73" y="717.30" font-size="11.9" font-weight="normal" fill="#111">0</text>
<text x="86.73" y="717.25" font-size="11.9" font-weight="normal" fill="#111">20</text>
<text x="131.95" y="717.33" font-size="11.9" font-weight="normal" fill="#111">40</text>
<text x="169.08" y="717.27" font-size="11.9" font-weight="normal" fill="#111">60</text>
<text x="209.36" y="717.25" font-size="11.9" font-weight="normal" fill="#111">80</text>
<text x="245.89" y="717.30" font-size="11.9" font-weight="normal" fill="#111">100</text>
<text transform="translate(9.87,638.89) rotate(-90)" font-size="11.9" font-weight="normal" fill="#111">Frequency</text>
<text x="93.69" y="729.50" font-size="11.9" font-weight="normal" fill="#111"><tspan font-style="italic">PITX3</tspan> DNA Methylation</text>
<text transform="translate(192.68,551.24) rotate(-90)" font-size="11.9" font-weight="normal" fill="#111">61.8%</text>
<text x="336.63" y="522.58" font-size="19.5" font-weight="bold" fill="#111">F</text>
<text x="353.44" y="533.60" font-size="11.9" font-weight="normal" fill="#111">100</text>
<text x="360.03" y="566.75" font-size="11.9" font-weight="normal" fill="#111">80</text>
<text x="360.03" y="599.27" font-size="11.9" font-weight="normal" fill="#111">60</text>
<text x="360.03" y="631.63" font-size="11.9" font-weight="normal" fill="#111">40</text>
<text x="360.03" y="663.45" font-size="11.9" font-weight="normal" fill="#111">20</text>
<text x="366.67" y="695.30" font-size="11.9" font-weight="normal" fill="#111">0</text>
<text x="387.03" y="715.95" font-size="11.9" font-weight="normal" fill="#111">0</text>
<text x="404.93" y="715.90" font-size="11.9" font-weight="normal" fill="#111">20</text>
<text x="426.95" y="715.98" font-size="11.9" font-weight="normal" fill="#111">40</text>
<text x="449.18" y="715.92" font-size="11.9" font-weight="normal" fill="#111">60</text>
<text x="472.46" y="715.90" font-size="11.9" font-weight="normal" fill="#111">80</text>
<text x="491.49" y="715.95" font-size="11.9" font-weight="normal" fill="#111">100</text>
<text x="517.69" y="715.95" font-size="11.9" font-weight="normal" fill="#111">120</text>
<text x="539.89" y="715.95" font-size="11.9" font-weight="normal" fill="#111">140</text>
<text x="428.10" y="728.42" font-size="11.9" font-weight="normal" fill="#111">Survival [Months]</text>
<text transform="translate(352.00,668.77) rotate(-90)" font-size="11.9" font-weight="normal" fill="#111">BCR-free Survival [%]</text>
<text x="488.54" y="543.34" font-size="11.9" font-weight="normal" fill="#8a8a8a">n = 145</text>
<text x="463.84" y="595.79" font-size="11.9" font-weight="normal" fill="#111">n = 105</text>
<text x="401.73" y="679.35" font-size="11.9" font-weight="normal" fill="#111">low</text>
<text x="401.77" y="690.19" font-size="11.9" font-weight="normal" fill="#111">high</text>
<text x="506.61" y="690.77" font-size="11.9" font-weight="normal" fill="#111">p = 0.001</text>
</svg>
</body></html>
